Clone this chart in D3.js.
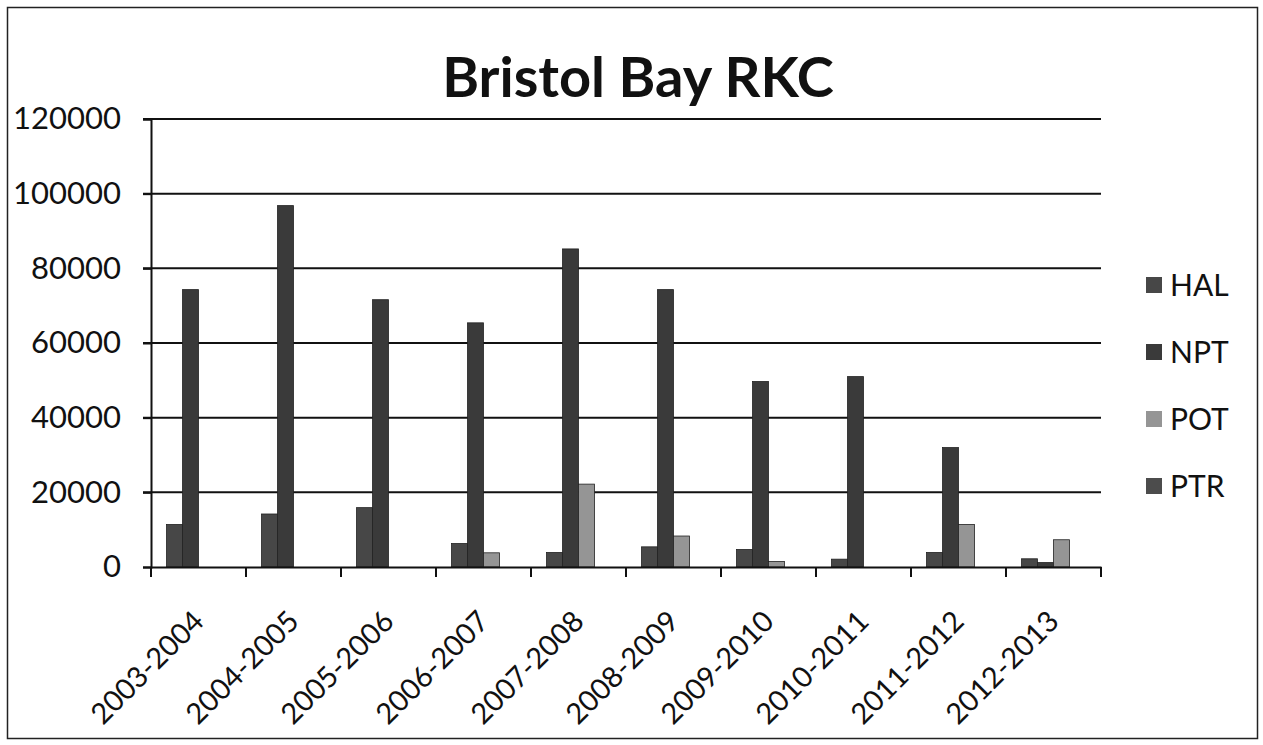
<!DOCTYPE html>
<html>
<head>
<meta charset="utf-8">
<script src="https://cdnjs.cloudflare.com/ajax/libs/d3/7.8.5/d3.min.js"></script>
<style>
  body { margin: 0; background: #fff; }
  svg text { font-family: Lato, "Open Sans", sans-serif; fill: #111; }
</style>
</head>
<body>
<svg id="chart" width="1263" height="745"></svg>
<script>
const seasons = ["2003-2004", "2004-2005", "2005-2006", "2006-2007", "2007-2008",
                 "2008-2009", "2009-2010", "2010-2011", "2011-2012", "2012-2013"];
const seriesNames = ["HAL", "NPT", "POT", "PTR"];
const halValues = [11400, 14200, 15900, 6300, 3900, 5400, 4700, 2100, 3900, 2200];
const nptValues = [74300, 96800, 71600, 65400, 85200, 74300, 49700, 51000, 32000, 1200];
const potValues = [0, 0, 0, 3800, 22200, 8300, 1500, 0, 11400, 7300];
const ptrValues = [0, 0, 0, 0, 0, 0, 0, 0, 0, 0];
const yTicks = [0, 20000, 40000, 60000, 80000, 100000, 120000];

const seriesValues = { HAL: halValues, NPT: nptValues, POT: potValues, PTR: ptrValues };
const colors = { HAL: "#474747", NPT: "#3a3a3a", POT: "#959595", PTR: "#4c4c4c" };

const svg = d3.select("#chart");
const plot = { left: 151, right: 1101, top: 119, bottom: 567 };

// outer frame
svg.append("rect")
    .attr("x", 7.5).attr("y", 7.5)
    .attr("width", 1250).attr("height", 731)
    .attr("fill", "none").attr("stroke", "#222").attr("stroke-width", 1.5);

svg.append("text")
    .attr("x", 638).attr("y", 97)
    .attr("text-anchor", "middle")
    .style("font-size", "56px").style("font-weight", "bold")
    .text("Bristol Bay RKC");

const x0 = d3.scaleBand().domain(seasons).range([plot.left, plot.right]).padding(0);
const x1 = d3.scaleBand().domain(seriesNames).range([0, x0.bandwidth()]).paddingOuter(0.97);
const y = d3.scaleLinear().domain([0, 120000]).range([plot.bottom, plot.top]);

// gridlines
svg.append("g").selectAll("line").data(yTicks.slice(1)).join("line")
    .attr("x1", plot.left - 8).attr("x2", plot.right)
    .attr("y1", d => y(d)).attr("y2", d => y(d))
    .attr("stroke", "#111").attr("stroke-width", 2);

// bars
const rows = seasons.map((s, i) => ({ season: s, values: seriesNames.map(k => ({ key: k, value: seriesValues[k][i] })) }));
svg.append("g").selectAll("g").data(rows).join("g")
    .attr("transform", d => `translate(${x0(d.season)},0)`)
  .selectAll("rect").data(d => d.values.filter(v => v.value > 0)).join("rect")
    .attr("x", d => x1(d.key))
    .attr("width", x1.bandwidth())
    .attr("y", d => y(d.value))
    .attr("height", d => y(0) - y(d.value))
    .attr("fill", d => colors[d.key])
    .attr("stroke", "#222").attr("stroke-width", 0.8);

// y axis
const yAxis = svg.append("g").attr("transform", `translate(${plot.left},0)`)
    .call(d3.axisLeft(y).tickValues(yTicks).tickSize(8).tickPadding(22).tickFormat(d3.format("d")));
yAxis.select(".domain").attr("stroke", "#111").attr("stroke-width", 2);
yAxis.selectAll(".tick line").attr("stroke", "#111").attr("stroke-width", 2);
yAxis.selectAll("text").style("font-size", "31px").attr("fill", "#111");

// x axis
const xAxis = svg.append("g").attr("transform", `translate(0,${plot.bottom})`)
    .call(d3.axisBottom(x0).tickSize(0).tickFormat(d => d));
xAxis.select(".domain").attr("stroke", "#111").attr("stroke-width", 2);
xAxis.selectAll(".tick text")
    .style("font-size", "29px")
    .attr("text-anchor", "end")
    .attr("transform", "translate(0,49) rotate(-45)")
    .attr("dy", "0.35em").attr("y", 0).attr("x", 0);
svg.append("g").selectAll("line").data(seasons.concat(["end"])).join("line")
    .attr("x1", d => d === "end" ? plot.right : x0(d))
    .attr("x2", d => d === "end" ? plot.right : x0(d))
    .attr("y1", plot.bottom).attr("y2", plot.bottom + 10)
    .attr("stroke", "#111").attr("stroke-width", 2);

// legend
const legend = svg.append("g").selectAll("g").data(seriesNames).join("g")
    .attr("transform", (d, i) => `translate(1146,${277 + i * 67})`);
legend.append("rect").attr("width", 16).attr("height", 16)
    .attr("fill", d => colors[d]);
legend.append("text").attr("x", 24).attr("y", 8).attr("dy", "0.36em")
    .style("font-size", "30px").text(d => d);
</script>
</body>
</html>
